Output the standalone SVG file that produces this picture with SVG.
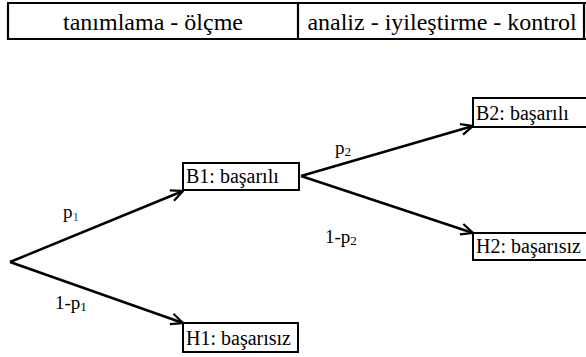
<svg xmlns="http://www.w3.org/2000/svg" width="586" height="357" viewBox="0 0 586 357">
  <style>
    .head { font-size: 24px; text-anchor: middle; }
    .node-label { font-size: 20px; }
    .edge-label { font-size: 19px; }
    .sub { font-size: 13px; }
    .frame { stroke: #000; stroke-width: 2.2; fill: none; }
    .box { stroke: #000; stroke-width: 2; fill: #fff; }
    .edge { stroke: #000; stroke-width: 2.5; fill: none; marker-end: url(#arrow); }
  </style>
  <defs>
    <marker id="arrow" viewBox="0 0 14 14" refX="13" refY="7" markerWidth="14" markerHeight="14" markerUnits="userSpaceOnUse" orient="auto">
      <path d="M1,1.5 L13,7 L1,12.5" fill="none" stroke="#000" stroke-width="2.2"/>
    </marker>
  </defs>

  <g font-family="Liberation Serif, Times New Roman, DejaVu Serif, serif" fill="#000">
    <!-- phase header -->
    <g id="header">
      <line class="frame" x1="7" y1="3" x2="586" y2="3"/>
      <line class="frame" x1="7" y1="39" x2="586" y2="39"/>
      <line class="frame" x1="8" y1="3" x2="8" y2="39"/>
      <line class="frame" x1="298" y1="3" x2="298" y2="39"/>
      <line class="frame" x1="584" y1="3" x2="584" y2="39"/>
      <text class="head" x="153" y="30">tanımlama - ölçme</text>
      <text class="head" x="442" y="30">analiz - iyileştirme - kontrol</text>
    </g>

    <!-- connectors -->
    <g id="connectors">
      <line class="edge" x1="10" y1="262" x2="183" y2="191"/>
      <line class="edge" x1="10" y1="262" x2="183" y2="323"/>
      <line class="edge" x1="301" y1="176" x2="473" y2="126"/>
      <line class="edge" x1="301" y1="176" x2="473" y2="233"/>
      <text class="edge-label" x="63" y="218">p<tspan class="sub" dy="3" fill="#555">1</tspan></text>
      <text class="edge-label" x="55" y="309">1-p<tspan class="sub" dy="2">1</tspan></text>
      <text class="edge-label" x="335" y="154">p<tspan class="sub" dy="2">2</tspan></text>
      <text class="edge-label" x="325" y="243">1-p<tspan class="sub" dy="2">2</tspan></text>
    </g>

    <!-- outcome nodes -->
    <g id="B1">
      <rect class="box" x="183" y="163" width="116" height="27"/>
      <text class="node-label" x="186" y="183">B1: başarılı</text>
    </g>
    <g id="H1">
      <rect class="box" x="183" y="323" width="115" height="29"/>
      <text class="node-label" x="186" y="345">H1: başarısız</text>
    </g>
    <g id="B2">
      <rect class="box" x="473" y="98" width="120" height="29"/>
      <text class="node-label" x="476" y="120">B2: başarılı</text>
    </g>
    <g id="H2">
      <rect class="box" x="473" y="233" width="120" height="27"/>
      <text class="node-label" x="476" y="253">H2: başarısız</text>
    </g>
  </g>
</svg>
